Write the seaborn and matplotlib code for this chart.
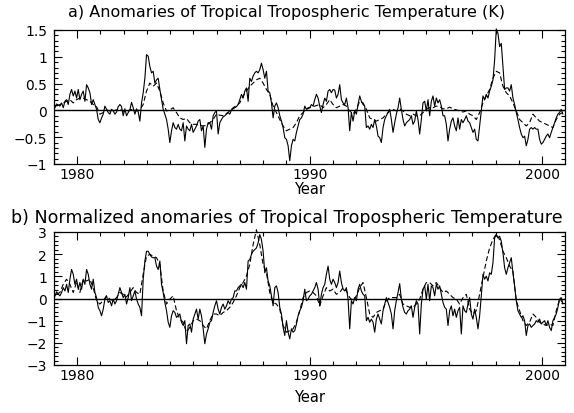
import numpy as np
import pandas as pd
import matplotlib
matplotlib.use("Agg")
import matplotlib.pyplot as plt
import seaborn as sns
from matplotlib.ticker import MultipleLocator

# ---- data ----
# Panel a: anomalies (K); solid sampled ~every 0.0716 yr, dashed ~every 0.143 yr
a_solid = [
    0.05, 0.12, 0.10,
    0.08, 0.14, 0.05, 0.17, 0.20, 0.11, 0.30, 0.39, 0.27, 0.36, 0.23, 0.39, 0.20, 0.30, 0.36, 0.17,
    0.48, 0.42, 0.33, 0.11, 0.20, 0.11, 0.02, -0.17, -0.23, -0.14, -0.07, 0.08, 0.02, -0.04, -0.07,
    0.02, -0.01, -0.07, -0.03, 0.07, 0.11, 0.07, -0.10, 0.03, -0.10, -0.04, 0.01, 0.15, 0.05, -0.07,
    0.03, -0.03, -0.20, 0.14, 0.33, 0.60, 1.04, 1.01, 0.82, 0.70, 0.73, 0.51, 0.57, 0.60, 0.39, 0.20,
    0.02, -0.07, -0.17, -0.35, -0.60, -0.38, -0.23, -0.32, -0.35, -0.26, -0.35, -0.38, -0.23, -0.57,
    -0.29, -0.35, -0.38, -0.26, -0.41, -0.35, -0.29, -0.20, -0.17, -0.38, -0.29, -0.69, -0.35, -0.23,
    -0.23, -0.35, -0.10, -0.04, -0.01, -0.44, -0.23, -0.17, -0.12, -0.10, -0.07, -0.04, -0.07, 0.01,
    0.03, 0.05, 0.07, 0.11, 0.20,
    0.30, 0.23, 0.36, 0.42, 0.17, 0.60, 0.54, 0.64, 0.70, 0.73, 0.70, 0.76, 0.88, 0.76, 0.60, 0.73,
    0.36, 0.33, 0.14, -0.14, 0.08, 0.14, 0.05, -0.10, -0.20, -0.32, -0.51, -0.54, -0.66, -0.94, -0.66,
    -0.54, -0.57, -0.41, -0.29, -0.17, -0.14, -0.07, 0.08, 0.02, 0.05, 0.05, 0.11, 0.08, 0.20, 0.30,
    0.23, 0.08, -0.04, 0.11, 0.23, 0.17, 0.36, 0.39, 0.33, 0.39, 0.38, 0.23, 0.30, 0.48, 0.20, 0.14,
    0.11, 0.23, 0.05, -0.38, -0.04, -0.20, -0.01, -0.07, 0.11, 0.27, 0.17, 0.11, 0.08, -0.32, -0.29,
    -0.35, -0.26, -0.32, -0.17, -0.29, -0.48, -0.51, -0.60, -0.32, -0.17, -0.10, -0.04, 0.02, -0.17,
    -0.41, -0.23, -0.07, 0.05, 0.23,
    0.02, -0.17, -0.29, -0.23, -0.20, -0.17, -0.10, -0.26, -0.20, -0.01, -0.17, -0.44, -0.17, 0.14,
    0.17, -0.01, 0.20, -0.10, 0.17, 0.27, 0.08, 0.23, 0.14, 0.20, 0.08, -0.10, -0.10, -0.26, -0.57,
    -0.35, -0.20, -0.14, -0.29, -0.38, -0.14, -0.35, -0.17, -0.23, -0.17, -0.10, -0.20, -0.23, -0.32,
    -0.41, -0.35, -0.54, -0.57, -0.29, -0.01, 0.27, 0.20, 0.30, 0.23, 0.36, 0.45, 0.57, 0.94, 1.52,
    1.44, 1.19, 1.25, 0.82, 0.39, 0.42, 0.42, 0.36, 0.48, 0.23, 0.11, -0.04, -0.17, -0.32, -0.44,
    -0.51, -0.48, -0.66, -0.54, -0.35, -0.32, -0.35, -0.32, -0.35, -0.35, -0.54, -0.63, -0.60, -0.54,
    -0.48, -0.44, -0.51, -0.41, -0.32, -0.23, -0.14, -0.07, -0.04, 0.02, -0.07,
]
a_dashed = [
    0.08,
    0.11, 0.14, 0.17, 0.20, 0.14, 0.20, 0.23, 0.23, 0.20, 0.17, 0.11, 0.07, -0.07, -0.04, 0.01, -0.01,
    -0.01, 0.01, 0.02, -0.01, -0.03, 0.01, 0.02, -0.01, 0.01, 0.11, 0.36, 0.51, 0.45, 0.51, 0.36, 0.14,
    -0.01, 0.01, 0.05, -0.04, -0.14, -0.17, -0.15, -0.23, -0.26, -0.26, -0.28, -0.29, -0.28, -0.23,
    -0.17, -0.07, -0.09, -0.10, -0.06, -0.01, 0.05, 0.09, 0.14,
    0.27, 0.36, 0.45, 0.51, 0.57, 0.60, 0.51, 0.39, 0.30, 0.08, -0.04, -0.17, -0.29, -0.38, -0.35,
    -0.32, -0.23, -0.10, -0.04, 0.02, 0.05, 0.07, 0.09, 0.11, 0.05, 0.11, 0.20, 0.11, 0.05, 0.08, 0.11,
    0.08, -0.01, -0.07, 0.02, 0.17, 0.14, 0.02, -0.14, -0.17, -0.20, -0.17, -0.14, -0.07, -0.01, 0.02,
    -0.01, 0.03,
    -0.01, -0.07, -0.10, -0.07, -0.10, -0.10, -0.04, 0.02, 0.05, 0.05, 0.08, 0.07, 0.03, 0.03, 0.06,
    0.03, 0.01, -0.01, -0.03, -0.01, -0.07, -0.10, -0.17, -0.04, 0.14, 0.27, 0.39, 0.60, 0.73, 0.70,
    0.45, 0.33, 0.27, 0.14, -0.01, -0.17, -0.23, -0.29, -0.23, -0.07, -0.14, -0.20, -0.23, -0.26,
    -0.29, -0.32, -0.17, -0.07, -0.04,
]

# Panel b: normalized anomalies
b_solid = [
    0.10, 0.30, 0.20,
    0.12, 0.27, 0.49, 0.34, 0.64, 0.27, 0.87, 1.31, 1.09, 0.64, 0.87, 0.42, 0.72, 0.42, 0.87, 0.64,
    1.31, 1.09, 0.64, 0.42, 0.87, 0.27, 0.04, -0.40, -0.55, -0.78, -0.48, -0.03, 0.12, -0.18, -0.10,
    -0.33, -0.03, -0.25, -0.10, 0.19, 0.49, 0.27, 0.04, 0.19, -0.25, 0.04, 0.49, -0.10, 0.12, 0.34,
    -0.03, -0.25, -0.40, -0.78, 0.87, 1.69, 2.13, 2.13, 1.99, 1.87, 1.84, 1.84, 1.46, 1.31, 1.69, 0.64,
    0.27, -0.18, -0.55, -1.07, -1.30, -0.78, -0.55, -0.63, -0.85, -0.78, -0.70, -1.07, -1.22, -1.00,
    -2.04, -1.22, -1.15, -1.52, -0.93, -0.70, -0.48, -0.93, -0.48, -0.78, -1.37, -2.04, -1.60, -1.37,
    -1.07, -1.00, -0.63, -0.33, -0.10, -0.48, -0.70, -0.40, -0.25, -0.48, -0.33, -0.10, -0.25, -0.03,
    0.04, 0.34, 0.34, 0.49, 0.57,
    0.64, 0.49, 0.72, 0.42, 1.69, 1.76, 1.99, 2.13, 2.21, 2.28, 2.51, 2.88, 2.66, 2.13, 1.16, 1.39,
    0.79, 0.57, 0.12, -0.33, 0.49, 0.57, 0.27, -0.40, -0.70, -1.30, -1.67, -1.00, -1.52, -1.82, -1.37,
    -1.52, -1.45, -1.15, -0.78, -0.55, -0.40, -0.10, 0.42, -0.10, -0.03, 0.12, 0.19, 0.34, 0.49, 0.72,
    0.42, -0.33, 0.19, 0.49, 0.64, 1.09, 1.46, 0.87, 0.64, 0.87, 0.72, 0.49, 0.72, 1.24, 0.72, 0.42,
    0.34, 0.49, -0.03, -1.37, -0.10, -0.25, 0.04, -0.10, 0.42, 0.64, 0.34, 0.19, 0.12, -1.00, -0.85,
    -1.07, -0.93, -1.07, -1.52, -0.93, -0.70, -0.93, -1.15, -0.55, -0.25, 0.04, -0.18, -0.40, -0.70,
    -1.37, -0.55, -0.10, 0.27, 0.67,
    -0.03, -0.40, -0.63, -0.70, -0.55, -0.48, -0.33, -0.85, -0.40, -0.10, -0.25, -1.60, -0.25, 0.42,
    0.57, -0.03, 0.64, -0.10, 0.57, 0.49, 0.12, 0.64, 0.42, 0.57, 0.19, -0.18, -0.40, -0.48, -1.22,
    -0.55, -0.33, -0.78, -0.48, -0.85, -0.55, -0.40, -1.60, -0.33, -0.55, -0.63, -0.25, 0.04, -0.70,
    -0.93, -0.48, -0.85, -1.37, -0.78, 0.12, 1.09, 0.87, 1.01, 0.79, 1.16, 1.09, 1.61, 2.73, 2.88,
    2.73, 2.81, 2.58, 2.06, 1.39, 1.09, 1.39, 1.61, 1.84, 1.16, 0.57, -0.10, -0.55, -0.70, -0.85,
    -0.78, -1.00, -1.67, -1.22, -1.15, -1.30, -1.22, -1.15, -1.00, -1.07, -0.93, -1.15, -1.07, -1.00,
    -1.22, -1.00, -1.30, -1.45, -1.00, -0.85, -0.70, -0.40, -0.03, 0.04, -0.25,
]
b_dashed = [
    0.20,
    0.27, 0.64, 0.87, 0.64, 0.27, 0.72, 0.27, 0.87, 0.79, 0.87, 0.49, -0.10, -0.25, -0.10, 0.12, -0.03,
    -0.10, 0.04, 0.27, 0.19, 0.07, 0.27, 0.49, 0.27, 0.19, 1.09, 1.91, 1.99, 1.91, 1.84, 1.54, 0.34,
    -0.25, -0.03, 0.12, -0.55, -0.93, -1.07, -1.52, -1.30, -1.00, -0.93, -1.00, -1.22, -1.37, -1.00,
    -0.70, -0.70, -0.78, -0.63, -0.55, -0.40, -0.18, 0.12, 0.49,
    0.72, 1.01, 1.54, 2.43, 3.10, 2.43, 1.54, 1.16, 0.27, -0.18, -0.25, -0.48, -1.22, -1.52, -1.45,
    -1.37, -1.07, -0.55, 0.04, 0.27, 0.34, 0.27, 0.12, -0.33, 0.12, 0.49, 0.34, 0.42, 0.19, 0.27, 0.49,
    0.34, 0.04, -0.10, 0.12, 0.49, 0.72, 0.04, -0.70, -0.85, -0.63, -0.55, -0.48, -0.10, 0.04, 0.04,
    0.04, 0.19,
    -0.25, -0.33, -0.40, -0.40, -0.25, -0.03, 0.42, 0.72, 0.72, 0.57, 0.72, 0.49, 0.27, 0.34, 0.19,
    0.04, -0.03, -0.25, 0.04, 0.19, -0.48, -0.70, -0.55, 0.19, 0.94, 1.69, 2.28, 2.66, 2.91, 2.66,
    2.13, 1.84, 1.46, 1.24, -0.10, -0.55, -1.00, -1.22, -1.07, -0.70, -0.85, -1.07, -1.15, -1.22,
    -1.15, -1.22, -0.55, -0.03, -0.18,
]

solid_start, dashed_start, series_end = 1979.04, 1979.11, 2000.89
titles = ["a) Anomaries of Tropical Tropospheric Temperature (K)",
          "b) Normalized anomaries of Tropical Tropospheric Temperature"]
xticks = [1980, 1990, 2000]

# ---- plotting ----
sns.set_style("ticks")
plt.rcParams["font.family"] = ["DejaVu Sans"]
plt.rcParams.update({"text.color": "black", "axes.labelcolor": "black",
                     "xtick.color": "black", "ytick.color": "black"})

fig = plt.figure(figsize=(5.74, 4.14), dpi=100)
axa = fig.add_axes([54 / 574, 1 - 165 / 414, 511 / 574, 134 / 414])
axb = fig.add_axes([54 / 574, 1 - 366 / 414, 511 / 574, 133 / 414])


def draw(ax, solid, dashed, ylim, ymajor, yminor):
    ts = np.linspace(solid_start, series_end, len(solid))
    td = np.linspace(dashed_start, series_end, len(dashed))
    df_s = pd.DataFrame({"Year": ts, "v": solid})
    df_d = pd.DataFrame({"Year": td, "v": dashed})
    sns.lineplot(data=df_s, x="Year", y="v", ax=ax, color="black", lw=0.8,
                 estimator=None, sort=False, clip_on=False)
    sns.lineplot(data=df_d, x="Year", y="v", ax=ax, color="black", lw=0.8,
                 estimator=None, sort=False, linestyle=(0, (4.5, 2.5)), clip_on=False)
    ax.axhline(0, color="black", lw=1.0)
    ax.set_xlim(1979.0, 2000.98)
    ax.set_ylim(*ylim)
    ax.xaxis.set_major_locator(MultipleLocator(10))
    ax.xaxis.set_minor_locator(MultipleLocator(1))
    ax.yaxis.set_major_locator(MultipleLocator(ymajor))
    ax.yaxis.set_minor_locator(MultipleLocator(yminor))
    ax.tick_params(which="both", direction="in", top=True, right=True,
                   labelsize=10, color="black", labelcolor="black", width=0.8)
    ax.tick_params(which="major", length=6)
    ax.tick_params(axis="x", which="major", pad=2)
    ax.tick_params(axis="y", which="major", pad=5)
    ax.tick_params(which="minor", length=3)
    ax.set_xticks(xticks)
    ax.set_xticklabels([str(x) for x in xticks])
    ax.set_ylabel("")
    for s in ax.spines.values():
        s.set_linewidth(0.9)
        s.set_color("black")
    fmt = lambda v, p: ("%g" % v).replace("-", "\u2212")
    ax.yaxis.set_major_formatter(matplotlib.ticker.FuncFormatter(fmt))


draw(axa, a_solid, a_dashed, (-1, 1.5), 0.5, 0.1)
draw(axb, b_solid, b_dashed, (-3, 3), 1, 0.2)
axa.set_xlabel("Year", fontsize=10.5, labelpad=0, color="black")
axb.set_xlabel("Year", fontsize=10.5, labelpad=5, color="black")

fig.text(0.5, 1 - 13 / 414, titles[0], ha="center", va="center", fontsize=11.5, color="black")
fig.text(0.5, 1 - 218 / 414, titles[1], ha="center", va="center", fontsize=12.6, color="black")

fig.savefig("out.png", dpi=100)
